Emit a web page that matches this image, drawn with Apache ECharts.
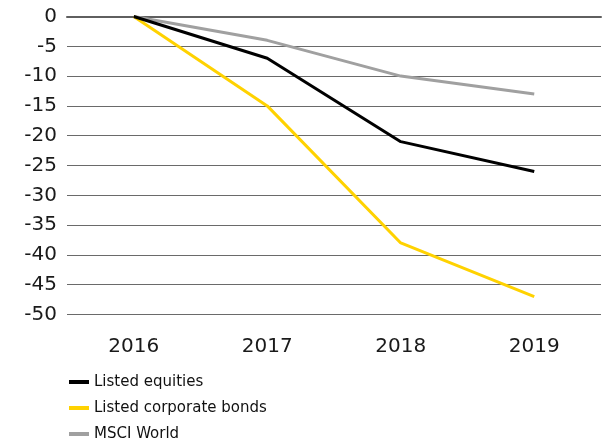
<!DOCTYPE html>
<html>
<head>
<meta charset="utf-8">
<script src="https://cdn.jsdelivr.net/npm/echarts@6/dist/echarts.min.js"></script>
<style>
html,body{margin:0;padding:0;background:#fff;}
#chart{width:605px;height:441px;}
</style>
</head>
<body>
<div id="chart"></div>
<script>
var years = ['2016', '2017', '2018', '2019'];
var listedEquities = [0, -7, -21, -26];
var listedCorporateBonds = [0, -15, -38, -47];
var msciWorld = [0, -4, -10, -13];
var yTicks = { min: -50, max: 0, interval: 5 };

var chart = echarts.init(document.getElementById('chart'), null, { renderer: 'canvas' });
var font = 'DejaVu Sans';
chart.setOption({
  animation: false,
  backgroundColor: '#ffffff',
  grid: { left: 67, right: 4, top: 16.5, bottom: 126.5, containLabel: false },
  xAxis: [{
    type: 'category',
    data: years,
    position: 'bottom',
    boundaryGap: true,
    axisLine: { show: false, onZero: false },
    axisTick: { show: false },
    axisLabel: { margin: 22, fontFamily: font, fontSize: 20, color: '#1a1a1a' }
  }, {
    type: 'category',
    data: years,
    position: 'top',
    axisLine: { show: true, onZero: false, lineStyle: { color: '#5f5f5f', width: 2 } },
    axisTick: { show: false },
    axisLabel: { show: false }
  }],
  yAxis: {
    type: 'value',
    min: yTicks.min,
    max: yTicks.max,
    interval: yTicks.interval,
    axisLine: { show: false },
    axisTick: { show: false },
    axisLabel: { margin: 10, fontFamily: font, fontSize: 20, color: '#1a1a1a' },
    splitLine: { show: true, lineStyle: { color: '#6a6a6a', width: 1 } }
  },
  legend: {
    orient: 'vertical',
    left: 69,
    top: 374,
    height: 120,
    padding: 0,
    itemWidth: 20,
    itemHeight: 4,
    itemGap: 10,
    icon: 'rect',
    textStyle: { fontFamily: font, fontSize: 15, color: '#111111', lineHeight: 16 },
    data: ['Listed equities', 'Listed corporate bonds', 'MSCI World']
  },
  series: [{
    name: 'MSCI World',
    type: 'line',
    data: msciWorld,
    symbol: 'none',
    lineStyle: { color: '#a0a0a0', width: 3 },
    itemStyle: { color: '#a0a0a0' }
  }, {
    name: 'Listed corporate bonds',
    type: 'line',
    data: listedCorporateBonds,
    symbol: 'none',
    lineStyle: { color: '#ffd200', width: 3 },
    itemStyle: { color: '#ffd200' }
  }, {
    name: 'Listed equities',
    type: 'line',
    data: listedEquities,
    symbol: 'none',
    lineStyle: { color: '#000000', width: 3 },
    itemStyle: { color: '#000000' }
  }]
});
</script>
</body>
</html>
